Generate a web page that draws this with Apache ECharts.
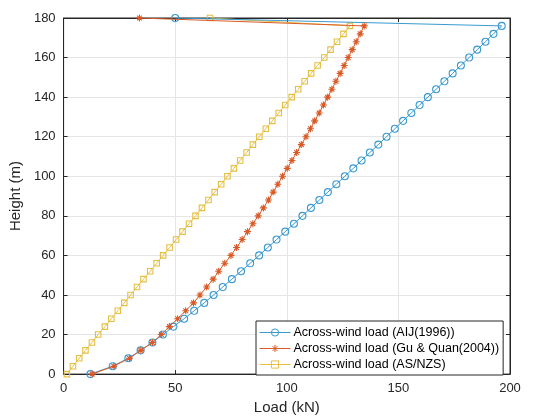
<!DOCTYPE html>
<html><head><meta charset="utf-8">
<script src="https://cdn.jsdelivr.net/npm/echarts@6/dist/echarts.min.js"></script>
<style>html,body{margin:0;padding:0;background:#fff}#c{width:543px;height:420px}</style>
</head><body><div id="c"></div>
<script>
const heights = [0,4,8,12,16,20,24,28,32,36,40,44,48,52,56,60,64,68,72,76,80,84,88,92,96,100,104,108,112,116,120,124,128,132,136,140,144,148,152,156,160,164,168,172,176,180];
const aijLoad = [12,22,29,34.5,39.8,44.5,49.2,54,58.5,63,67.2,71.3,75.4,79.5,83.6,87.6,91.5,95.4,99.3,103.2,107,110.8,114.6,118.4,122.2,126,129.8,133.5,137.2,141,144.7,148.4,152.1,155.8,159.5,163.2,166.9,170.6,174.3,178,181.7,185.3,189,192.6,196.3,50];
const guQuanLoad = [12.8,22.5,29.5,34.6,39.8,43.8,47.4,51.1,54.7,58.2,61.1,64.1,67,69.5,72.2,75,77.5,80,82.4,84.8,87.2,89.5,91.8,93.9,96,98.1,100.2,102.3,104.4,106.5,108.6,110.6,112.5,114.5,116.4,118.3,120.2,122,123.9,125.7,127.5,129.3,131.1,132.9,134.7,34];
const asnzsLoad = [1.5,4.2,7,9.8,12.7,15.5,18.5,21.4,24.3,27.2,30,32.9,35.8,38.8,41.7,44.6,47.5,50.4,53.3,56.2,59.1,62,64.9,67.7,70.6,73.4,76.3,79.1,82,84.8,87.7,90.6,93.5,96.4,99.3,102.2,105.1,108,110.9,113.8,116.8,119.6,122.5,125.4,128.3,65.6];
const seriesNames = ['Across-wind load (AIJ(1996))','Across-wind load (Gu & Quan(2004))','Across-wind load (AS/NZS)'];
const xTicks = [0,50,100,150,200];
const yTicks = [0,20,40,60,80,100,120,140,160,180];

const colors = ['#3a9ad0','#d95a26','#e5bf42'];
const font = 'Liberation Sans, Arial, Helvetica, sans-serif';
const pair = (xs) => xs.map((v,i)=>[v,heights[i]]);
const star = 'path://M0 5 L10 5 M5 0 L5 10 M1.6 1.6 L8.4 8.4 M8.4 1.6 L1.6 8.4';
const circ = 'path://M0 5 A5 5 0 1 0 10 5 A5 5 0 1 0 0 5 Z';
const sq = 'path://M0 0 L10 0 L10 10 L0 10 Z';
const clear = 'rgba(255,255,255,0)';
const axisLine = {show:true,onZero:false,lineStyle:{color:'#262626',width:1}};
const tick = {show:true,inside:true,length:4,lineStyle:{color:'#262626'}};
const chart = echarts.init(document.getElementById('c'));
chart.setOption({
  animation:false,
  textStyle:{fontFamily:font},
  grid:{left:57,right:33,top:18,bottom:43,show:true,borderColor:'#262626',borderWidth:1,backgroundColor:'transparent'},
  legend:{
    orient:'vertical',left:256,top:321,
    backgroundColor:'#fff',borderColor:'#262626',borderWidth:1,
    padding:[5,4,4,3],itemGap:3,itemWidth:31,itemHeight:9,
    lineStyle:{width:1},
    itemStyle:{borderWidth:1},
    textStyle:{fontSize:12.5,color:'#000',fontFamily:font,padding:[0,0,0,-2]},
    data:seriesNames
  },
  xAxis:[
    {type:'value',min:0,max:200,interval:50,position:'bottom',
     name:'Load (kN)',nameLocation:'middle',nameGap:25,
     nameTextStyle:{fontSize:15,color:'#262626'},
     axisLine:axisLine,axisTick:tick,
     axisLabel:{fontSize:13,color:'#262626',margin:8,formatter:v=>xTicks.includes(v)?String(v):''},
     splitLine:{show:true,lineStyle:{color:'#e5e5e5'}}},
    {type:'value',min:0,max:200,interval:50,position:'top',
     axisLine:axisLine,axisTick:tick,axisLabel:{show:false},splitLine:{show:false}}
  ],
  yAxis:[
    {type:'value',min:0,max:180,interval:20,position:'left',
     name:'Height (m)',nameLocation:'middle',nameGap:28,
     nameTextStyle:{fontSize:15,color:'#262626'},
     axisLine:axisLine,axisTick:tick,
     axisLabel:{fontSize:13,color:'#262626',margin:8,formatter:v=>yTicks.includes(v)?String(v):''},
     splitLine:{show:true,lineStyle:{color:'#e5e5e5'}}},
    {type:'value',min:0,max:180,interval:20,position:'right',
     axisLine:axisLine,axisTick:tick,axisLabel:{show:false},splitLine:{show:false}}
  ],
  series:[
    {name:seriesNames[0],type:'line',data:pair(aijLoad),symbol:circ,symbolSize:7,
     lineStyle:{color:colors[0],width:1},itemStyle:{color:clear,borderColor:colors[0],borderWidth:1.1},z:3},
    {name:seriesNames[1],type:'line',data:pair(guQuanLoad),symbol:star,symbolSize:7,
     lineStyle:{color:colors[1],width:1},itemStyle:{color:colors[1],borderColor:colors[1],borderWidth:1.1},z:4},
    {name:seriesNames[2],type:'line',data:pair(asnzsLoad),symbol:sq,symbolSize:5.5,
     lineStyle:{color:colors[2],width:1},itemStyle:{color:clear,borderColor:colors[2],borderWidth:1.1},z:2}
  ]
});
</script></body></html>
